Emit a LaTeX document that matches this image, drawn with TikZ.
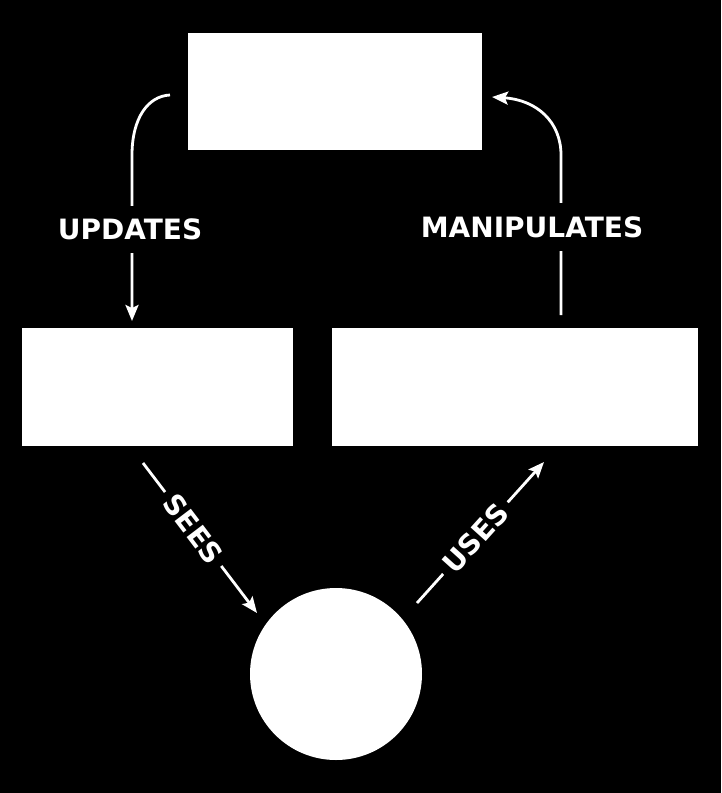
\documentclass[tikz,border=0pt]{standalone}
\usepackage{fontspec}
\setmainfont{DejaVu Sans}
\usetikzlibrary{arrows.meta}
\begin{document}
\begin{tikzpicture}[x=1pt,y=-1pt,
  box/.style={fill=white,draw=none,inner sep=0pt,anchor=north west},
  conn/.style={draw=white,line width=2.8pt},
  tip/.style={-{Stealth[length=16pt,width=13pt,inset=3pt]}},
  lbl/.style={text=white,fill=black,font=\bfseries\fontsize{28}{28}\selectfont,inner sep=0pt}]
\fill[black] (0,0) rectangle (721,793);
\useasboundingbox (0,0) rectangle (721,793);
\node[box,minimum width=294pt,minimum height=117pt] (model) at (188,33) {};
\node[box,minimum width=271pt,minimum height=118pt] (view) at (22,328) {};
\node[box,minimum width=366pt,minimum height=118pt] (ctrl) at (332,328) {};
\node[circle,fill=white,minimum size=172pt,inner sep=0pt] (user) at (336,674) {};
\coordinate (u1) at (170,95);
\coordinate (u2) at (132,321);
\coordinate (m1) at (561,315);
\coordinate (m2) at (492,97);
\coordinate (s1) at (143,463);
\coordinate (s2) at (257,613);
\coordinate (e1) at (417,603);
\coordinate (e2) at (544,462);
\draw[conn,tip] (u1) .. controls (148,96) and (132,118) .. (132,155)
  -- node[lbl,pos=0.45,xshift=-2pt,inner ysep=13pt,inner xsep=4pt] {UPDATES} (u2);
\draw[conn,tip] (m1) -- node[lbl,pos=0.55,xshift=-29pt,inner ysep=13pt,inner xsep=4pt] {MANIPULATES}
  (561,155) .. controls (561,122) and (537,100) .. (m2);
\draw[conn,tip] (s1) -- node[lbl,pos=0.44,sloped,inner xsep=7pt,inner ysep=2pt] {SEES} (s2);
\draw[conn,tip] (e1) -- node[lbl,pos=0.46,sloped,inner xsep=7pt,inner ysep=2pt] {USES} (e2);
\end{tikzpicture}
\end{document}
